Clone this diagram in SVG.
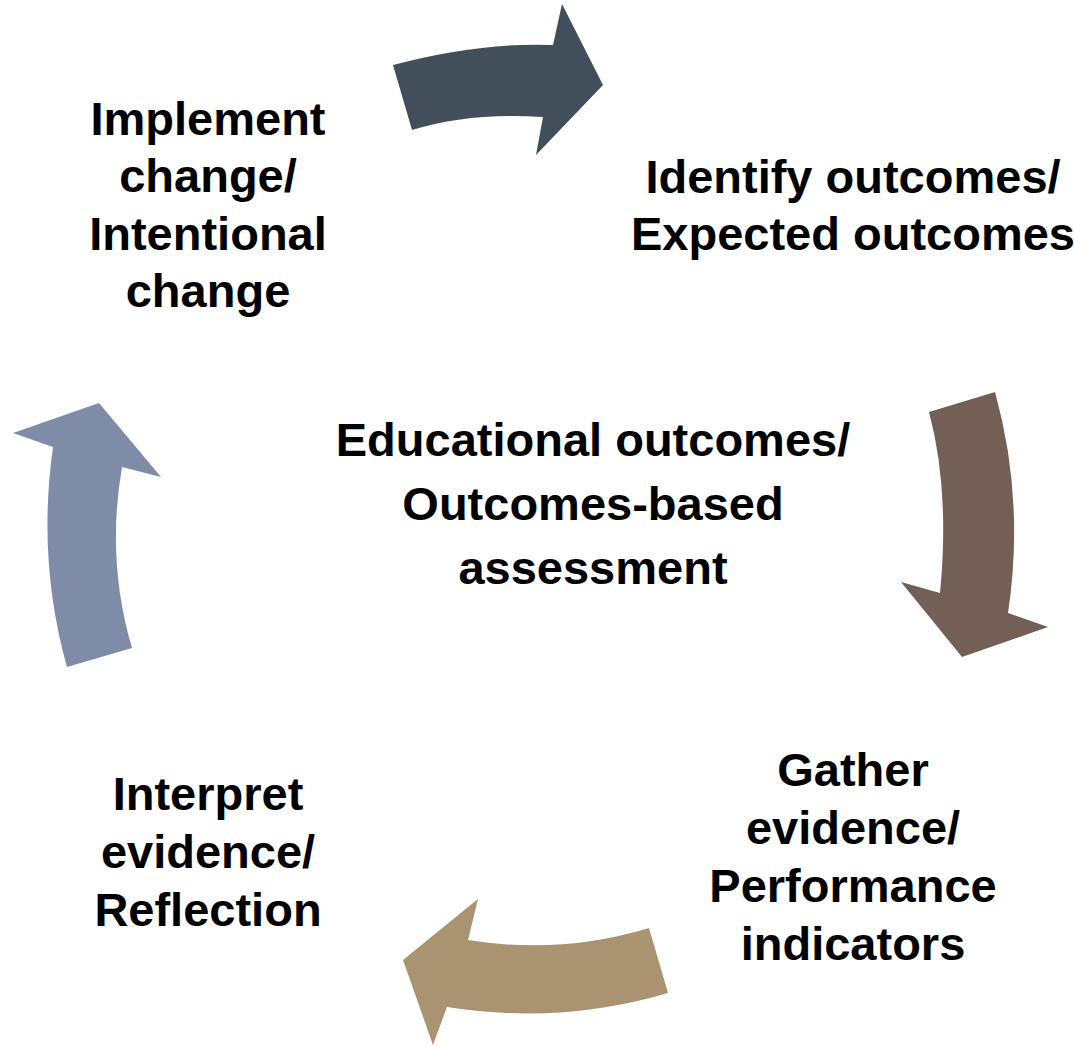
<svg xmlns="http://www.w3.org/2000/svg" width="1074" height="1046" viewBox="0 0 1074 1046">
<style>
.lbl{font-family:"Liberation Sans",Arial,sans-serif;font-weight:bold;font-size:47px;fill:#000;text-anchor:middle}
</style>
<rect width="1074" height="1046" fill="#fff"/>
<g id="connectors">
<path id="arrow-top" fill="#434e5b" d="M393,65 Q480,42 553,45 L562,4 L603,85 L536,155 L543,117 Q470,112 412,130 Z"/>
<path id="arrow-right" fill="#735f55" d="M929,412 L995,392 Q1025,500 1008,613 L1048,627 L962,657 L901,582 L940,593 Q950,490 929,412 Z"/>
<path id="arrow-bottom" fill="#aa9370" d="M649,928 L668,993 Q560,1025 447,1007 L433,1045 L403,960 L478,899 L468,940 Q560,955 649,928 Z"/>
<path id="arrow-left" fill="#7f8ca8" d="M67,667 L132,648 Q106,560 122,467 L161,477 L99,403 L13,433 L53,447 Q37,560 67,667 Z"/>
</g>
<g id="node-center"><text class="lbl" x="593" y="456">Educational outcomes/</text><text class="lbl" x="593" y="520">Outcomes-based</text><text class="lbl" x="593" y="584">assessment</text></g>
<g id="node-identify"><text class="lbl" x="853" y="193">Identify outcomes/</text><text class="lbl" x="853" y="250">Expected outcomes</text></g>
<g id="node-gather"><text class="lbl" x="853" y="786">Gather</text><text class="lbl" x="853" y="844">evidence/</text><text class="lbl" x="853" y="902">Performance</text><text class="lbl" x="853" y="960">indicators</text></g>
<g id="node-interpret"><text class="lbl" x="208" y="810">Interpret</text><text class="lbl" x="208" y="868">evidence/</text><text class="lbl" x="208" y="926">Reflection</text></g>
<g id="node-implement"><text class="lbl" x="208" y="135">Implement</text><text class="lbl" x="208" y="192">change/</text><text class="lbl" x="208" y="250">Intentional</text><text class="lbl" x="208" y="307">change</text></g>
</svg>
